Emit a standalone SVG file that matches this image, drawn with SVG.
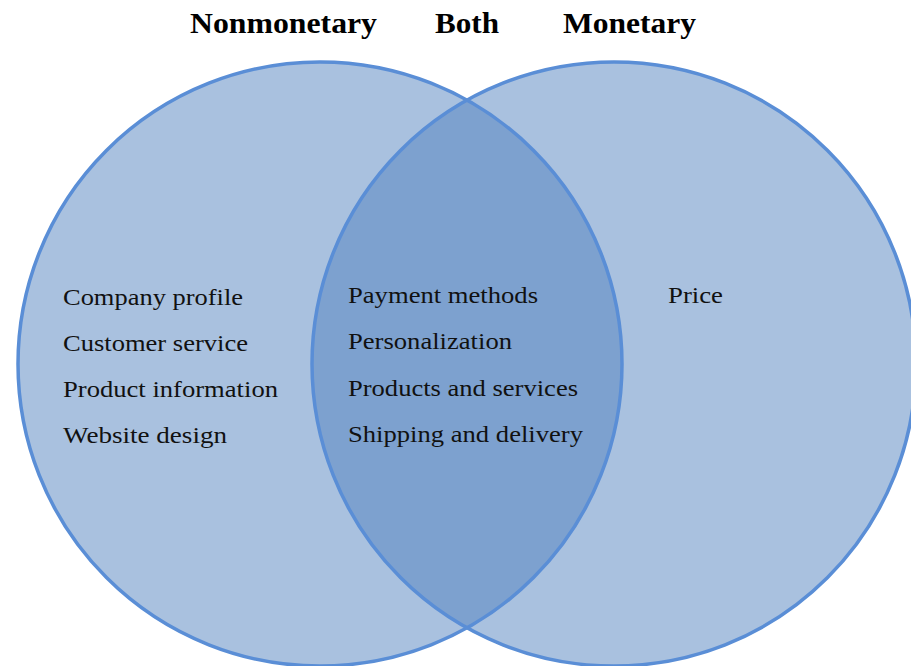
<svg xmlns="http://www.w3.org/2000/svg" width="911" height="666" viewBox="0 0 911 666">
<style>
.fill{fill:#4F81BD;fill-opacity:0.49;stroke:none}
.ring{fill:none;stroke:#5A8ED6;stroke-width:3.5}
.hd{font-family:"Liberation Serif",serif;font-weight:bold;font-size:30px;fill:#000}
.tx{font-family:"Liberation Serif",serif;font-size:24px;fill:#111}
</style>
<rect width="911" height="666" fill="#fff"/>
<g id="nonmonetary">
<circle class="fill" cx="320" cy="364" r="302"/>
</g>
<g id="monetary">
<circle class="fill" cx="614" cy="364" r="302"/>
</g>
<g id="outlines">
<circle class="ring" cx="320" cy="364" r="302"/>
<circle class="ring" cx="614" cy="364" r="302"/>
</g>
<g id="headers">
<text class="hd" x="190" y="33" textLength="187" lengthAdjust="spacingAndGlyphs">Nonmonetary</text>
<text class="hd" x="435" y="33" textLength="64" lengthAdjust="spacingAndGlyphs">Both</text>
<text class="hd" x="563" y="33" textLength="133" lengthAdjust="spacingAndGlyphs">Monetary</text>
</g>
<g id="left-items">
<text class="tx" x="63" y="305" textLength="180" lengthAdjust="spacingAndGlyphs">Company profile</text>
<text class="tx" x="63" y="351" textLength="185" lengthAdjust="spacingAndGlyphs">Customer service</text>
<text class="tx" x="63" y="397" textLength="215" lengthAdjust="spacingAndGlyphs">Product information</text>
<text class="tx" x="63" y="443" textLength="164" lengthAdjust="spacingAndGlyphs">Website design</text>
</g>
<g id="both-items">
<text class="tx" x="348" y="303" textLength="190" lengthAdjust="spacingAndGlyphs">Payment methods</text>
<text class="tx" x="348" y="349" textLength="164" lengthAdjust="spacingAndGlyphs">Personalization</text>
<text class="tx" x="348" y="396" textLength="230" lengthAdjust="spacingAndGlyphs">Products and services</text>
<text class="tx" x="348" y="442" textLength="235" lengthAdjust="spacingAndGlyphs">Shipping and delivery</text>
</g>
<g id="right-items">
<text class="tx" x="668" y="303" textLength="55" lengthAdjust="spacingAndGlyphs">Price</text>
</g>
</svg>
